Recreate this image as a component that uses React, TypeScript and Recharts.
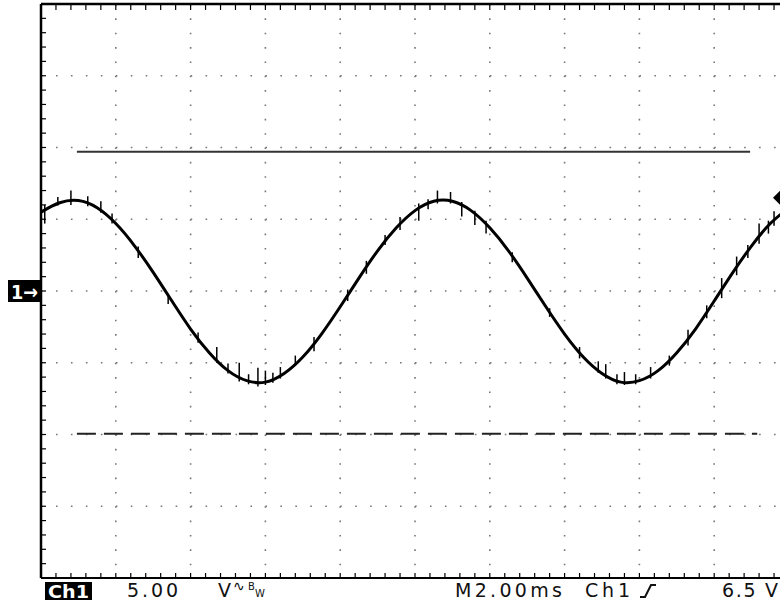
import React from 'react';
import {
  ComposedChart, Line, Scatter, ErrorBar, XAxis, YAxis, CartesianGrid,
  ReferenceLine, ReferenceDot,
} from 'recharts';

// time axis in ms (2 ms/div, 10 divisions), voltage in V (5 V/div, 8 divisions)
const timeMs = [0, 0.5, 1, 1.5, 2, 2.5, 3, 3.5, 4, 4.5, 5, 5.5, 6, 6.5, 7, 7.5, 8, 8.5, 9, 9.5, 10,
  10.5, 11, 11.5, 12, 12.5, 13, 13.5, 14, 14.5, 15, 15.5, 16, 16.5, 17, 17.5, 18, 18.5, 19, 19.5, 20];
const volts = [5.5, 6.15, 6.3, 5.8, 4.7, 3.15, 1.3, -0.7, -2.65, -4.3, -5.55, -6.25, -6.35, -5.75, -4.6,
  -3.0, -1.1, 0.9, 2.8, 4.4, 5.6, 6.25, 6.25, 5.6, 4.4, 2.8, 0.9, -1.1, -3.0, -4.6, -5.75, -6.35, -6.25,
  -5.55, -4.3, -2.65, -0.7, 1.3, 3.15, 4.7, 5.8];

// noise glitches on the trace: [down, up] in volts
const spikeT = [0.1, 0.45, 0.8, 1.25, 1.6, 1.9, 2.6, 3.4, 4.2, 4.7, 5.0, 5.3, 5.55, 5.8, 6.0, 6.2, 6.4, 6.8,
  7.3, 8.2, 8.7, 9.2, 9.6, 10.1, 10.35, 10.6, 10.95, 11.25, 11.6, 11.9, 12.6, 13.6, 14.4, 14.9, 15.1,
  15.4, 15.6, 15.9, 16.3, 16.8, 17.3, 17.8, 18.2, 18.6, 18.9, 19.2, 19.45, 19.6];
const spikeV = [5.6, 6.15, 6.3, 6.1, 5.65, 5.0, 2.7, -0.5, -3.3, -4.8, -5.55, -6.1, -6.3, -6.35, -6.35,
  -6.2, -5.9, -4.9, -3.7, -0.3, 1.7, 3.5, 4.65, 5.8, 6.1, 6.3, 6.3, 6.0, 5.4, 4.7, 2.4, -1.5, -4.3,
  -5.4, -5.9, -6.3, -6.35, -6.3, -5.9, -4.9, -3.3, -1.5, 0.1, 1.7, 2.7, 3.8, 4.4, 4.95];
const spikeErr = [[0.9, 0.4], [0.2, 0.4], [0.3, 0.7], [0.2, 0.5], [0.2, 0.6], [0.3, 0.4], [0.4, 0.4],
  [0.4, 0.3], [0.3, 0.4], [0.2, 0.9], [0.2, 0.5], [0.2, 1.1], [0.2, 0.5], [0.3, 1.0], [0.2, 0.8],
  [0.2, 0.5], [0.2, 0.6], [0.3, 0.4], [0.5, 0.5], [0.4, 0.4], [0.5, 0.4], [0.3, 0.4], [0.4, 0.5],
  [0.9, 0.3], [0.4, 0.3], [0.2, 0.7], [0.2, 0.6], [0.8, 0.2], [0.8, 0.2], [0.7, 0.2], [0.4, 0.3],
  [0.3, 0.3], [0.4, 0.4], [0.3, 0.5], [0.2, 0.8], [0.2, 0.5], [0.2, 0.7], [0.2, 0.5], [0.2, 0.6],
  [0.3, 0.4], [0.5, 0.6], [0.4, 0.5], [0.6, 0.8], [0.6, 0.7], [0.4, 0.5], [0.5, 0.9], [0.4, 0.5],
  [0.4, 0.6]];

// cursors
const cursorHigh = 9.7;
const cursorLow = -9.95;
const cursorStart = 0.96;
const cursorEndHigh = 18.96;
const cursorEndLow = 19.15;
const triggerLevel = 6.5;
const groundLevel = 0;

// graticule
const majorT = [0, 2, 4, 6, 8, 10, 12, 14, 16, 18, 20];
const majorV = [-20, -15, -10, -5, 0, 5, 10, 15, 20];
const minorT = Array.from({ length: 51 }, (_, i) => Math.round(i * 4) / 10);
const minorV = Array.from({ length: 41 }, (_, i) => i - 20);
const tMin = 0;
const vMax = 20;
const vMin = -20;

const trace = timeMs.map((t, i) => ({ t, v: volts[i] }));
const spikes = spikeT.map((t, i) => ({ t, v: spikeV[i], err: spikeErr[i] }));
const topTicks = minorT.map((t) => ({ t, v: vMax }));
const bottomTicks = minorT.map((t) => ({ t, v: vMin }));
const leftTicks = minorV.map((v) => ({ t: tMin, v }));

const FONT = '"DejaVu Sans", sans-serif';
const noShape = () => <g />;
const blank = () => '';
const hiddenTick = { fill: 'transparent', fontSize: 1 };

const TickDown = (p: any) => <line x1={p.cx} y1={p.cy} x2={p.cx} y2={p.cy + 6} stroke="#000" strokeWidth={1.2} />;
const TickUp = (p: any) => <line x1={p.cx} y1={p.cy} x2={p.cx} y2={p.cy - 5} stroke="#000" strokeWidth={1.2} />;
const TickRight = (p: any) => <line x1={p.cx} y1={p.cy} x2={p.cx + 5} y2={p.cy} stroke="#000" strokeWidth={1.2} />;

const GroundMarker = (props: any) => {
  const { cx, cy } = props;
  return (
    <g>
      <rect x={cx - 33} y={cy - 11} width={32} height={22} fill="#000" />
      <text x={cx - 30} y={cy + 8} fill="#fff" fontFamily={FONT} fontWeight="bold" fontSize={20}
        textLength={27} lengthAdjust="spacingAndGlyphs">1→</text>
    </g>
  );
};

const TriggerMarker = (props: any) => {
  const { cx, cy } = props;
  const c = cx - 8;
  return <polygon points={`${c - 8},${cy} ${c},${cy - 8} ${c + 8},${cy} ${c},${cy + 8}`} fill="#000" />;
};

export default function App() {
  return (
    <div style={{ position: 'fixed', left: 0, top: 0, width: 780, height: 604, overflow: 'hidden', background: '#fff' }}>
      <ComposedChart width={800} height={604} data={trace} margin={{ top: 4, right: 11, bottom: 26, left: 41 }}>
        {/* dotted graticule */}
        <CartesianGrid horizontal={false} verticalValues={majorT} stroke="#777" strokeWidth={1.6}
          strokeDasharray="1.6 12.75" />
        <CartesianGrid vertical={false} horizontalValues={majorV} stroke="#777" strokeWidth={1.6}
          strokeDasharray="1.6 13.36" />
        <XAxis dataKey="t" type="number" domain={[0, 20]} allowDataOverflow orientation="bottom" mirror
          ticks={majorT} interval={0} tick={hiddenTick} tickFormatter={blank} tickLine={false}
          axisLine={{ stroke: '#000', strokeWidth: 2 }} />
        <XAxis xAxisId="top" dataKey="t" type="number" domain={[0, 20]} allowDataOverflow orientation="top" mirror
          ticks={majorT} interval={0} tick={hiddenTick} tickFormatter={blank} tickLine={false}
          axisLine={{ stroke: '#000', strokeWidth: 2.5 }} />
        <YAxis dataKey="v" type="number" domain={[-20, 20]} allowDataOverflow orientation="left" mirror
          ticks={majorV} interval={0} tick={hiddenTick} tickFormatter={blank} tickLine={false}
          axisLine={{ stroke: '#000', strokeWidth: 2.5 }} />
        {/* minor tick marks on the frame */}
        <Scatter data={topTicks} dataKey="v" shape={TickDown} isAnimationActive={false} />
        <Scatter data={bottomTicks} dataKey="v" shape={TickUp} isAnimationActive={false} />
        <Scatter data={leftTicks} dataKey="v" shape={TickRight} isAnimationActive={false} />
        <ReferenceLine segment={[{ x: cursorStart, y: cursorHigh }, { x: cursorEndHigh, y: cursorHigh }]}
          stroke="#333" strokeWidth={2} />
        <ReferenceLine segment={[{ x: cursorStart, y: cursorLow }, { x: cursorEndLow, y: cursorLow }]}
          stroke="#222" strokeWidth={2} strokeDasharray="19 8" />
        <Line dataKey="v" type="natural" stroke="#000" strokeWidth={3} dot={false} isAnimationActive={false} />
        <Scatter data={spikes} dataKey="v" shape={noShape} isAnimationActive={false}>
          <ErrorBar dataKey="err" direction="y" width={0} stroke="#000" strokeWidth={1.5} />
        </Scatter>
        <ReferenceDot x={0} y={groundLevel} r={0} shape={GroundMarker} ifOverflow="visible" />
        <ReferenceDot x={20} y={triggerLevel} r={0} shape={TriggerMarker} ifOverflow="visible" />
      </ComposedChart>
      <svg width={780} height={604} style={{ position: 'absolute', left: 0, top: 0, pointerEvents: 'none' }}>
        <rect x={45} y={582} width={47} height={18} fill="#000" />
        <text x={48} y={598} fill="#fff" fontFamily={FONT} fontWeight="bold" fontSize={18}
          textLength={41} lengthAdjust="spacingAndGlyphs">Ch1</text>
        <text x={127} y={597} fill="#111" fontFamily={FONT} fontSize={19} textLength={51}
          lengthAdjust="spacing">5.00</text>
        <text x={218} y={597} fill="#111" fontFamily={FONT} fontSize={19}>V</text>
        <text x={233} y={591} fill="#111" fontFamily={FONT} fontSize={14}>∿</text>
        <text x={248} y={590} fill="#111" fontFamily={FONT} fontSize={10}>B</text>
        <text x={255} y={597} fill="#111" fontFamily={FONT} fontSize={10}>W</text>
        <text x={455} y={597} fill="#111" fontFamily={FONT} fontSize={19} textLength={107}
          lengthAdjust="spacing">M2.00ms</text>
        <text x={585} y={597} fill="#111" fontFamily={FONT} fontSize={19} textLength={45}
          lengthAdjust="spacing">Ch1</text>
        <path d="M640 597 L645 597 L651 585 L656 585" stroke="#111" strokeWidth={2} fill="none" />
        <text x={722} y={597} fill="#111" fontFamily={FONT} fontSize={19} textLength={56}
          lengthAdjust="spacing">6.5 V</text>
      </svg>
    </div>
  );
}
